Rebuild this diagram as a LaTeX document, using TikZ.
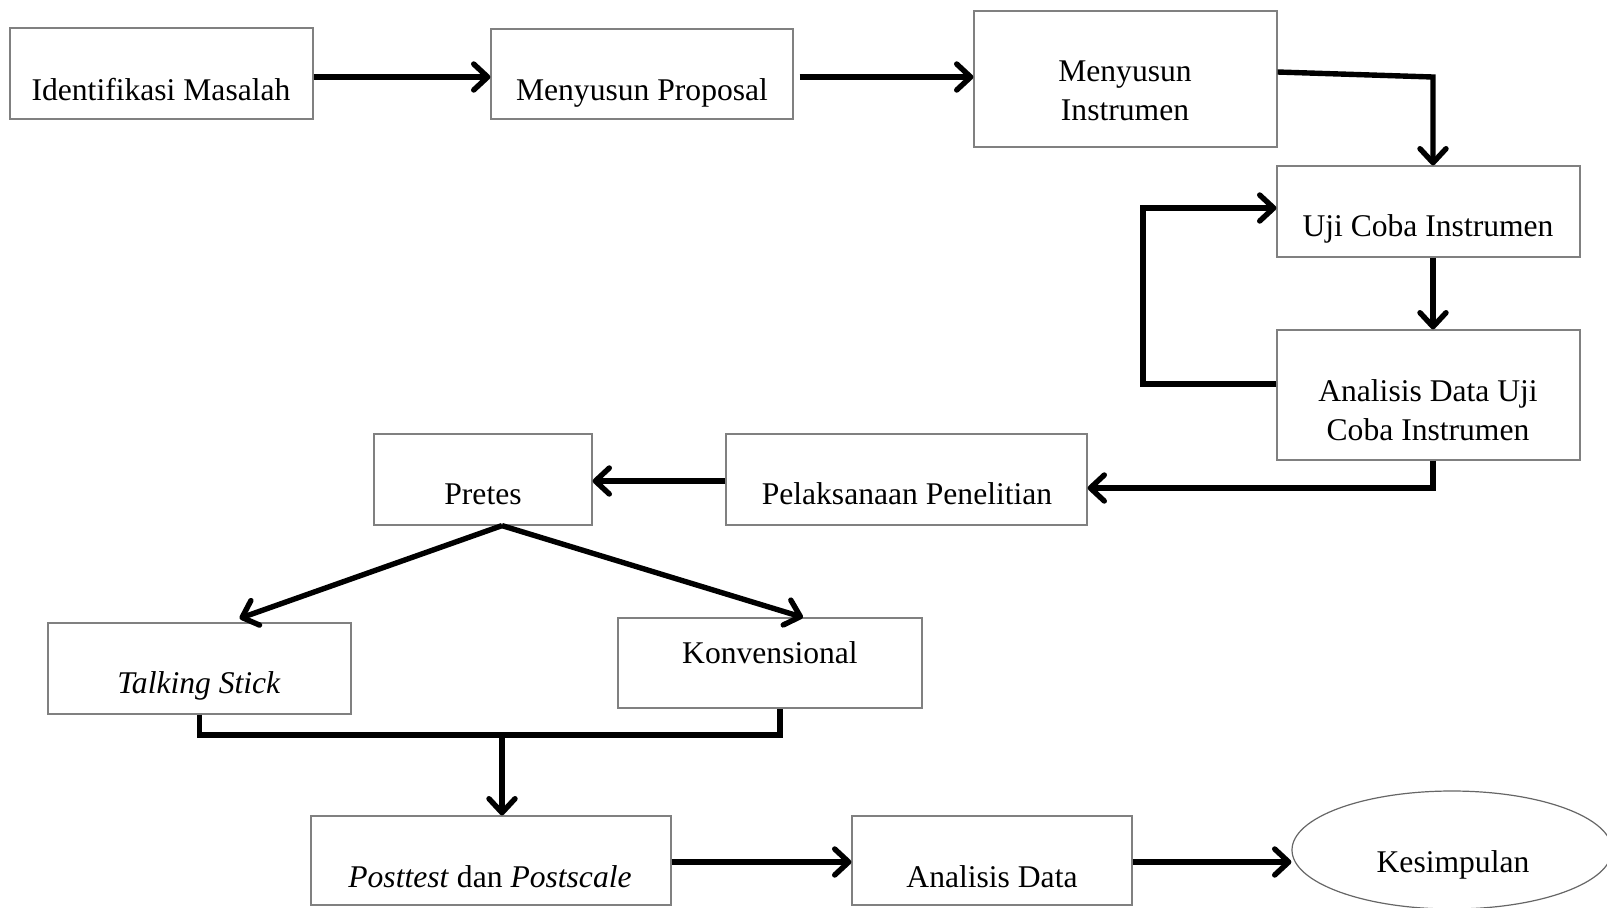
\documentclass[tikz,border=0pt]{standalone}
\usepackage{fontspec}
\setmainfont{Liberation Serif}
\usetikzlibrary{arrows.meta,shapes.geometric,calc}
\begin{document}
\begin{tikzpicture}[x=0.5pt,y=-0.5pt,
  box/.style={draw=black!50, line width=0.6pt, rectangle, inner sep=0pt},
  oval/.style={draw=black!60, line width=0.6pt, ellipse, inner sep=0pt},
  txt/.style={inner sep=0pt, font=\fontsize{15.8}{19.3}\selectfont, align=center},
  arr/.style={line width=2.7pt, line join=miter,
    -{Straight Barb[length=7pt,width=13pt,line cap=round,line join=round]}},
  ln/.style={line width=2.7pt, line join=miter}]
\useasboundingbox (0,0) rectangle (1607,907);

% boxes
\node[box, minimum width=151.5pt, minimum height=45.5pt] (idm) at (161.5,73.5) {};
\node[box, minimum width=151pt,   minimum height=45pt]   (mp)  at (642,74) {};
\node[box, minimum width=151.5pt, minimum height=68pt]   (mi)  at (1125.5,79) {};
\node[box, minimum width=151.5pt, minimum height=45.5pt] (uci) at (1428.5,211.5) {};
\node[box, minimum width=151.5pt, minimum height=65pt]   (adu) at (1428.5,395) {};
\node[box, minimum width=180.5pt, minimum height=45.5pt] (pp)  at (906.5,479.5) {};
\node[box, minimum width=109pt,   minimum height=45.5pt] (pre) at (483,479.5) {};
\node[box, minimum width=151.5pt, minimum height=45.5pt] (ts)  at (199.5,668.5) {};
\node[box, minimum width=152pt,   minimum height=45pt]   (kon) at (770,663) {};
\node[box, minimum width=180pt,   minimum height=44.5pt] (pd)  at (491,860.5) {};
\node[box, minimum width=140pt,   minimum height=44.5pt] (ad)  at (992,860.5) {};
\node[oval, minimum width=160pt,  minimum height=59pt]   (kes) at (1452,850) {};

% texts
\node[txt, anchor=base] (t1) at (161,100) {Identifikasi Masalah};
\node[txt, anchor=base] (t2) at (642,100) {Menyusun Proposal};
\node[txt] (t3) at (1125,91) {Menyusun\\Instrumen};
\node[txt, anchor=base] (t4) at (1428,236) {Uji Coba Instrumen};
\node[txt, anchor=base] (t5a) at (1428,401) {Analisis Data Uji};
\node[txt, anchor=base] (t5b) at (1428,440) {Coba Instrumen};
\node[txt, anchor=base] (t6) at (907,504) {Pelaksanaan Penelitian};
\node[txt, anchor=base] (t7) at (483,504) {Pretes};
\node[txt, anchor=base] (t8) at (199,693) {\textit{Talking Stick}};
\node[txt, anchor=base] (t9) at (770,663) {Konvensional};
\node[txt, anchor=base] (t10) at (490,887) {\textit{Posttest} dan \textit{Postscale}};
\node[txt, anchor=base] (t11) at (992,887) {Analisis Data};
\node[txt, anchor=base] (t12) at (1453,872) {Kesimpulan};

% helper coordinates
\coordinate (y1) at (0,77);
\coordinate (xc) at (1433,0);
\coordinate (yt) at (0,208);
\coordinate (yb) at (0,384);
\coordinate (xl) at (1143,0);
\coordinate (y6) at (0,488);
\coordinate (y7) at (0,481);
\coordinate (ym) at (0,735);
\coordinate (y9) at (0,862);
\coordinate (split) at ([xshift=9.5pt]pre.south);
\coordinate (tsin) at ([xshift=20pt,yshift=2pt]ts.north);
\coordinate (konin) at ([xshift=16.5pt]kon.north);
\coordinate (kd) at ([xshift=5pt]kon.south);
\coordinate (pdin) at ([xshift=5.5pt]pd.north);
\coordinate (mio) at ([yshift=3.5pt]mi.east);

% connectors
\draw[arr] (idm.east |- y1) -- (mp.west |- y1);
\draw[arr] ([xshift=3pt]mp.east |- y1) -- (mi.west |- y1);
\draw[arr] (mio) -- (xc |- y1) -- (xc |- uci.north);
\draw[arr] (xc |- uci.south) -- (xc |- adu.north);
\draw[arr] (adu.west |- yb) -- (xl |- yb) -- (xl |- yt) -- (uci.west |- yt);
\draw[arr] (xc |- adu.south) -- (xc |- y6) -- (pp.east |- y6);
\draw[arr] (pp.west |- y7) -- (pre.east |- y7);
\draw[arr] (split) -- (tsin);
\draw[arr] (split) -- (konin);
\draw[ln] (ts.south) -- (ts.south |- ym) -- (kd |- ym) -- (kd);
\draw[arr] (pdin |- ym) -- (pdin);
\draw[arr] (pd.east |- y9) -- (ad.west |- y9);
\draw[arr] (ad.east |- y9) -- (kes.west |- y9);
\end{tikzpicture}
\end{document}
